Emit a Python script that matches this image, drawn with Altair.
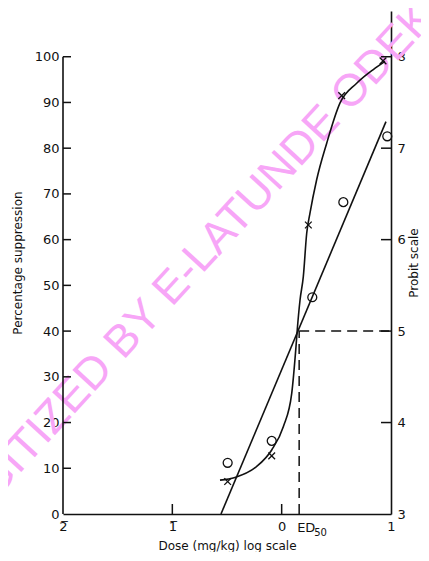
import altair as alt
import pandas as pd

# ---- data ----
# "x" marks: percentage suppression vs log dose
cross_dose = [-0.494, -0.091, 0.244, 0.549, 0.927]
cross_pct = [7.1, 12.7, 63.2, 91.5, 99.1]
# open circles: probit values vs log dose
circle_dose = [-0.494, -0.091, 0.280, 0.564, 0.966]
circle_probit = [3.56, 3.80, 5.37, 6.41, 7.13]
# hand-drawn sigmoid curve through the x marks
curve_dose = [-0.564, -0.427, -0.228, -0.091, 0.015, 0.092, 0.131, 0.143, 0.168,
              0.198, 0.229, 0.259, 0.320, 0.412, 0.534, 0.686, 0.838, 0.945]
curve_pct = [7.4, 8.0, 10.4, 14.0, 19.1, 26.4, 36.6, 40.4, 46.8,
             51.9, 61.4, 65.8, 73.1, 81.1, 89.9, 94.2, 97.2, 99.0]
# straight probit line
line_dose = [-0.555, 0.954]
line_probit = [3.0, 7.29]
ed50 = 0.16
ed50_probit = 5

pct_labels = [0, 10, 20, 30, 40, 50, 60, 70, 80, 90, 100]
pct_ticks = [10, 20, 30, 40, 50, 60, 70, 80, 90, 100]
probit_labels = [3, 4, 5, 6, 7, 8]
probit_ticks = [4, 5, 6, 7, 8]
dose_labels = [-2, -1, 0, 1]
dose_ticks = [-1, 0]

FONT = "DejaVu Sans"
INK = "#111111"

W, H = 328, 503
X_DOM = [-2, 1]
Y_DOM = [0, 110]
P_DOM = [3, 8.5]
# inward tick lengths in pixels, converted to data units of each scale
dose_per_px = (X_DOM[1] - X_DOM[0]) / W
pct_per_px = (Y_DOM[1] - Y_DOM[0]) / H

xs = alt.Scale(domain=X_DOM, nice=False, zero=False)
ys = alt.Scale(domain=Y_DOM, nice=False, zero=False)
ps = alt.Scale(domain=P_DOM, nice=False, zero=False)

xaxis = alt.Axis(values=dose_labels, title="Dose (mg/kg) log scale", ticks=False,
                 grid=False, labelFlush=False, labelPadding=6, titlePadding=7,
                 labelExpr="datum.value == -2 ? '2\u0305' : datum.value == -1 ? '1\u0305' : datum.value == 0 ? '0' : '1'")
yaxis = alt.Axis(values=pct_labels, title="Percentage suppression", ticks=False, grid=False,
                 domain=False, labelPadding=4, titlePadding=10)
paxis = alt.Axis(values=probit_labels, title="Probit scale", ticks=False, grid=False,
                 orient="right", labelPadding=6, titlePadding=15, titleAngle=270)


def X(f="dose"):
    return alt.X(f + ":Q", scale=xs, axis=xaxis)


def Y(f="pct"):
    return alt.Y(f + ":Q", scale=ys, axis=yaxis)


def P(f="probit"):
    return alt.Y(f + ":Q", scale=ps, axis=paxis)


wm = alt.Chart(pd.DataFrame({"t": ["DIGITIZED BY E-LATUNDE ODEKU"]})).mark_text(
    font="Liberation Sans", fontSize=45, angle=312.5, color="#f7a6f7",
    align="center", baseline="middle"
).encode(text="t:N", x=alt.value(138), y=alt.value(244))

left_line = alt.Chart(pd.DataFrame({"dose": [-2], "pct": [0], "pct2": [100]})).mark_rule(
    color=INK, strokeWidth=1.6).encode(x=X(), y=Y(), y2="pct2:Q")

lt = pd.DataFrame({"dose": [X_DOM[0]] * len(pct_ticks), "pct": pct_ticks})
lt["dose2"] = lt["dose"] + 8 * dose_per_px
left_ticks = alt.Chart(lt).mark_rule(color=INK, strokeWidth=1.5).encode(
    x=X(), x2="dose2:Q", y=Y())

bt = pd.DataFrame({"dose": dose_ticks, "pct": [Y_DOM[0]] * len(dose_ticks)})
bt["pct2"] = bt["pct"] + 10 * pct_per_px
bottom_ticks = alt.Chart(bt).mark_rule(color=INK, strokeWidth=1.5).encode(
    x=X(), y=Y(), y2="pct2:Q")

curve = alt.Chart(pd.DataFrame({"dose": curve_dose, "pct": curve_pct})).mark_line(
    color=INK, strokeWidth=1.6, interpolate="monotone").encode(x=X(), y=Y())

crosses = alt.Chart(pd.DataFrame({"dose": cross_dose, "pct": cross_pct})).mark_point(
    shape="M-1,-1L1,1M1,-1L-1,1", size=45, filled=False, color=INK, strokeWidth=1.3, opacity=1
).encode(x=X(), y=Y())

ed_label = alt.Chart(pd.DataFrame({"dose": [ed50], "pct": [0], "t": ["ED"]})).mark_text(
    align="left", baseline="alphabetic", dx=-2, dy=18, font=FONT, fontSize=13, color=INK
).encode(x=X(), y=Y(), text="t:N")

ed_sub = alt.Chart(pd.DataFrame({"dose": [ed50], "pct": [0], "t": ["50"]})).mark_text(
    align="left", baseline="alphabetic", dx=15, dy=22, font=FONT, fontSize=10, color=INK
).encode(x=X(), y=Y(), text="t:N")

pct_group = alt.layer(wm, left_line, left_ticks, bottom_ticks, curve, crosses, ed_label, ed_sub)

rt = pd.DataFrame({"dose": [X_DOM[1]] * len(probit_ticks), "probit": probit_ticks})
rt["dose2"] = rt["dose"] - 10 * dose_per_px
right_ticks = alt.Chart(rt).mark_rule(color=INK, strokeWidth=1.5).encode(
    x=X(), x2="dose2:Q", y=P())

pline = alt.Chart(pd.DataFrame({"dose": line_dose, "probit": line_probit})).mark_line(
    color=INK, strokeWidth=1.6).encode(x=X(), y=P())

circles = alt.Chart(pd.DataFrame({"dose": circle_dose, "probit": circle_probit})).mark_point(
    shape="circle", size=80, filled=False, color=INK, strokeWidth=1.3, opacity=1
).encode(x=X(), y=P())

hdash = alt.Chart(pd.DataFrame({"dose": [ed50], "dose2": [1], "probit": [ed50_probit]})).mark_rule(
    color=INK, strokeWidth=1.5, strokeDash=[10, 6]).encode(x=X(), x2="dose2:Q", y=P())

vdash = alt.Chart(pd.DataFrame({"dose": [ed50], "probit": [3], "probit2": [ed50_probit]})).mark_rule(
    color=INK, strokeWidth=1.5, strokeDash=[10, 6]).encode(x=X(), y=P(), y2="probit2:Q")

probit_group = alt.layer(right_ticks, pline, circles, hdash, vdash)

chart = alt.layer(pct_group, probit_group).resolve_scale(y="independent").properties(
    width=W, height=H,
    autosize=alt.AutoSizeParams(type="none"),
    padding={"left": 55, "top": 3, "right": 30, "bottom": 38},
    background="white",
).configure_view(strokeWidth=0).configure_axis(
    labelFont=FONT, labelFontSize=13, labelColor=INK,
    titleFont=FONT, titleFontSize=12, titleFontWeight="normal", titleColor=INK,
    domainColor=INK, domainWidth=1.6,
)

chart.save("out.html", embed_options={"renderer": "svg", "actions": False})
